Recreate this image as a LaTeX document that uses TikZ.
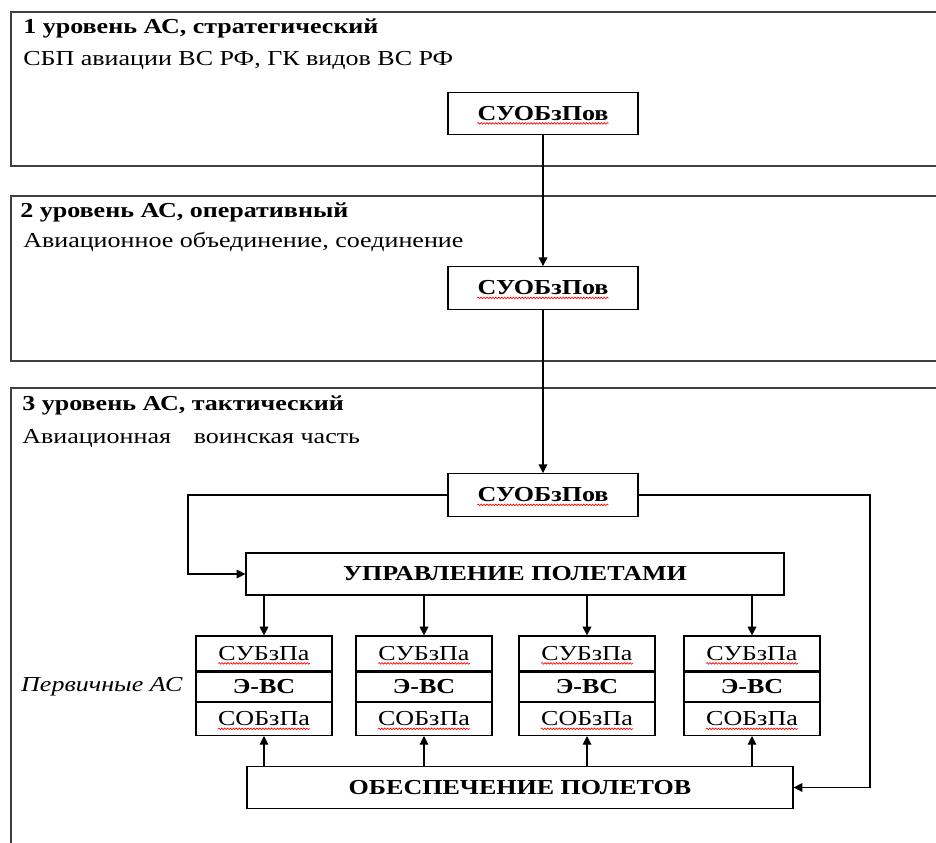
\documentclass[tikz,border=0pt]{standalone}
\usepackage{fontspec}
\usepackage{graphicx}
\setmainfont{Liberation Serif}
\usetikzlibrary{positioning}
\usetikzlibrary{arrows.meta}
\usetikzlibrary{decorations.pathmorphing}

\newcommand\hw[1]{\scalebox{1.22}[1]{#1}}

\begin{document}
\begin{tikzpicture}[x=0.75pt, y=-0.75pt, >={Triangle[length=6.5pt,width=6.5pt]}]
        \tikzstyle{every node}=[font=\fontsize{16}{19}\selectfont, inner sep=0pt]
        \tikzstyle{frame}=[line width=1.4pt, black!75]
        \tikzstyle{link}=[line width=0.9pt, ->]
        \tikzstyle{level}=[anchor=base west, font=\fontsize{16}{19}\selectfont\bfseries]
        \tikzstyle{unit}=[anchor=base west]
        \tikzstyle{suobz}=[draw, line width=0.9pt, minimum width=142.5pt, minimum height=32pt]
        \tikzstyle{wide}=[draw, line width=0.9pt, minimum height=31.5pt, font=\fontsize{16}{19}\selectfont\bfseries]
        \tikzstyle{cell}=[draw, line width=0.9pt, minimum width=102pt]
        \tikzstyle{bold}=[font=\fontsize{16}{19}\selectfont\bfseries]
        \tikzstyle{spell}=[red, line width=0.5pt, decorate, decoration={snake, amplitude=0.6pt, segment length=2.2pt}]
        \useasboundingbox (0,0) rectangle (936,843);
        \draw[frame] (936,12) -- (11,12) -- (11,166) -- (936,166);
        \draw[frame] (936,196) -- (11,196) -- (11,361) -- (936,361);
        \draw[frame] (936,388) -- (11,388) -- (11,843);
        \node [level] (lev1) at (23,33) {\hw{1 уровень АС, стратегический}};
        \node [unit] (org1) at (23,65) {\hw{СБП авиации ВС РФ, ГК видов ВС РФ}};
        \node [level] (lev2) at (20,217) {\hw{2 уровень АС, оперативный}};
        \node [unit] (org2) at (23,247) {\hw{Авиационное объединение, соединение}};
        \node [level] (lev3) at (22,410) {\hw{3 уровень АС, тактический}};
        \node [unit] (org3) at (22,443) {\hw{Авиационная\hspace{14pt}воинская часть}};
        \foreach \n/\y in {1/113.5, 2/288, 3/495} {
          \node [suobz] (s\n) at (543,\y) {};
          \node [bold] (sw\n) at (s\n) {\hw{СУОБзПов}};
          \draw[spell] ([yshift=-2.2pt]sw\n.base west) -- ([yshift=-2.2pt]sw\n.base east);
        }
        \node [wide, minimum width=403.5pt] (upr) at (515,574) {\hw{УПРАВЛЕНИЕ ПОЛЕТАМИ}};
        \node [wide, minimum width=409.5pt] (obs) at (520,787.5) {\hw{ОБЕСПЕЧЕНИЕ ПОЛЕТОВ}};
        \foreach \i/\x in {1/264, 2/424, 3/587, 4/752} {
          \node [cell, minimum height=26.25pt] (pa\i) at (\x,653.5) {};
          \node [cell, minimum height=21.75pt, below=0pt of pa\i, bold] (pb\i) {\hw{Э-ВС}};
          \node [cell, minimum height=24.75pt, below=0pt of pb\i] (pc\i) {};
          \node (pat\i) at (pa\i) {\hw{СУБзПа}};
          \node (pct\i) at (pc\i) {\hw{СОБзПа}};
          \draw[spell] ([yshift=-2.2pt]pat\i.base west) -- ([yshift=-2.2pt]pat\i.base east);
          \draw[spell] ([yshift=-2.2pt]pct\i.base west) -- ([yshift=-2.2pt]pct\i.base east);
          \draw[link] (pa\i.north |- upr.south) -- (pa\i.north);
          \draw[link] (pc\i.south |- obs.north) -- (pc\i.south);
        }
        \node [left=9.5pt of pb1, font=\fontsize{16}{19}\selectfont\itshape] (prim) {\hw{Первичные АС}};
        \coordinate (lbend) at (188,0);
        \coordinate (rbend) at (870,0);
        \draw[link] (s1) -- (s2);
        \draw[link] (s2) -- (s3);
        \draw[link] (s3.west) -| (lbend |- upr.west) -- (upr.west);
        \draw[link] (s3.east) -| (rbend |- obs.east) -- (obs.east);
      \end{tikzpicture}
\end{document}
